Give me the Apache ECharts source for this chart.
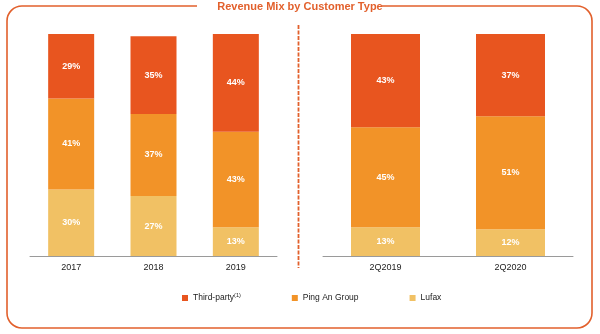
<!DOCTYPE html>
<html>
<head>
<meta charset="utf-8">
<script src="https://cdn.jsdelivr.net/npm/echarts@6/dist/echarts.min.js"></script>
<style>
html,body{margin:0;padding:0;background:#fff;}
#chart{width:600px;height:334px;}
</style>
</head>
<body>
<div id="chart"></div>
<script>
var annualCategories = ['2017', '2018', '2019'];
var quarterCategories = ['2Q2019', '2Q2020'];
var seriesNames = ['Third-party', 'Ping An Group', 'Lufax'];

var annualLufax = [30, 27, 13];
var annualPingAn = [41, 37, 43];
var annualThirdParty = [29, 35, 44];

var quarterLufax = [13, 12];
var quarterPingAn = [45, 51];
var quarterThirdParty = [43, 37];

var colors = { 'Third-party': '#E8551F', 'Ping An Group': '#F29328', 'Lufax': '#F1C164' };
var frameColor = '#E2602C';

var chart = echarts.init(document.getElementById('chart'));

var labelStyle = {
  show: true,
  position: 'inside',
  color: '#fff',
  fontWeight: 'bold',
  fontSize: 9,
  fontFamily: 'Liberation Sans, Arial, sans-serif',
  formatter: function (p) { return p.value + '%'; }
};

function bar(name, data, idx, width) {
  return {
    name: name,
    type: 'bar',
    stack: 's' + idx,
    xAxisIndex: idx,
    yAxisIndex: idx,
    barWidth: width,
    data: data,
    itemStyle: { color: colors[name] },
    label: labelStyle,
    emphasis: { disabled: true }
  };
}

var catAxisCommon = {
  type: 'category',
  axisLine: { show: true, lineStyle: { color: '#9a9a9a', width: 1 } },
  axisTick: { show: false },
  axisLabel: { color: '#222', fontSize: 9, margin: 7, fontFamily: 'Liberation Sans, Arial, sans-serif' }
};

var option = {
  animation: false,
  backgroundColor: '#fff',
  title: {
    text: 'Revenue Mix by Customer Type',
    left: 'center',
    top: -4,
    textStyle: { color: frameColor, fontSize: 11, fontWeight: 'bold', fontFamily: 'Liberation Sans, Arial, sans-serif' },
    z: 10
  },
  graphic: [
    { type: 'rect', shape: { x: 7, y: 6, width: 585, height: 322, r: 15 }, style: { fill: 'none', stroke: frameColor, lineWidth: 1.6 }, z: 1 },
    { type: 'rect', shape: { x: 197, y: 0, width: 185, height: 13 }, style: { fill: '#fff' }, z: 2 },
    { type: 'line', shape: { x1: 298.5, y1: 25, x2: 298.5, y2: 268 }, style: { stroke: frameColor, lineWidth: 1.8, lineDash: [4, 1.5] }, z: 2 }
  ],
  legend: {
    data: seriesNames,
    left: 177,
    top: 287,
    itemWidth: 6,
    itemHeight: 6,
    itemGap: 51,
    icon: 'rect',
    selectedMode: false,
    formatter: function (name) {
      return name === 'Third-party' ? '{a|Third-party}{s|(1)}' : '{a|' + name + '}';
    },
    textStyle: {
      color: '#222',
      fontFamily: 'Liberation Sans, Arial, sans-serif',
      rich: {
        a: { fontSize: 8.5, lineHeight: 12, color: '#222' },
        s: { fontSize: 5.5, lineHeight: 12, verticalAlign: 'top', color: '#222' }
      }
    }
  },
  grid: [
    { left: 30, right: 323, top: 34, bottom: 78 },
    { left: 323, right: 27, top: 34, bottom: 78 }
  ],
  xAxis: [
    Object.assign({ gridIndex: 0, data: annualCategories }, catAxisCommon),
    Object.assign({ gridIndex: 1, data: quarterCategories }, catAxisCommon)
  ],
  yAxis: [
    { type: 'value', gridIndex: 0, min: 0, max: 100, show: false },
    { type: 'value', gridIndex: 1, min: 0, max: 100, show: false }
  ],
  series: [
    bar('Lufax', annualLufax, 0, 46),
    bar('Ping An Group', annualPingAn, 0, 46),
    bar('Third-party', annualThirdParty, 0, 46),
    bar('Lufax', quarterLufax, 1, 69),
    bar('Ping An Group', quarterPingAn, 1, 69),
    bar('Third-party', quarterThirdParty, 1, 69)
  ]
};
chart.setOption(option);
</script>
</body>
</html>
